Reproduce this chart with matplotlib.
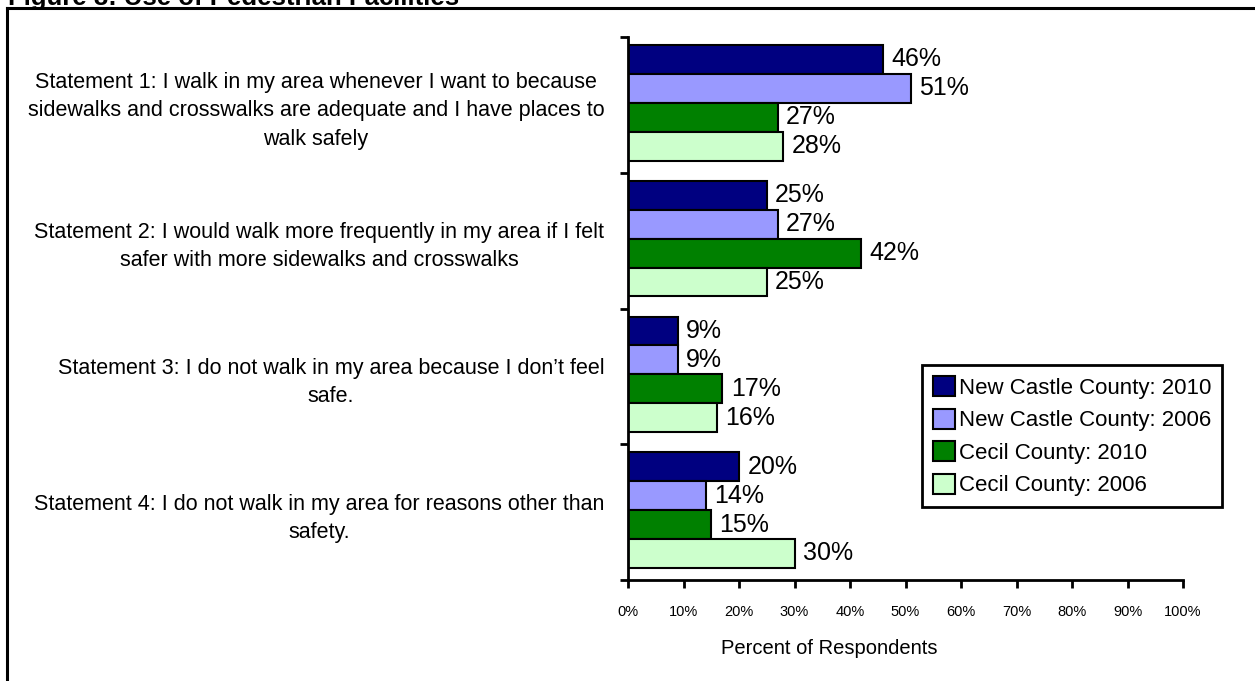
import numpy as np
import matplotlib
matplotlib.use("Agg")
import matplotlib.pyplot as plt
from matplotlib.lines import Line2D

# data
statements = [
    "Statement 1: I walk in my area whenever I want to because\nsidewalks and crosswalks are adequate and I have places to\nwalk safely",
    "Statement 2: I would walk more frequently in my area if I felt\nsafer with more sidewalks and crosswalks",
    "Statement 3: I do not walk in my area because I don\u2019t feel\nsafe.",
    "Statement 4: I do not walk in my area for reasons other than\nsafety.",
]
series_names = ["New Castle County: 2010", "New Castle County: 2006",
                "Cecil County: 2010", "Cecil County: 2006"]
ncc_2010 = [46, 25, 9, 20]
ncc_2006 = [51, 27, 9, 14]
cecil_2010 = [27, 42, 17, 15]
cecil_2006 = [28, 25, 16, 30]
colors = ["#000080", "#9999FF", "#008000", "#CCFFCC"]
xticks = np.arange(0, 101, 10)

narrow = ["Liberation Sans Narrow", "Liberation Sans", "DejaVu Sans"]
regular = ["Liberation Sans", "DejaVu Sans"]

W, H = 1255, 681
fig = plt.figure(figsize=(W / 100, H / 100), dpi=100)
ax = fig.add_axes([628 / W, 1 - 580 / H, (1183 - 628) / W, (580 - 37) / H])

all_series = [ncc_2010, ncc_2006, cecil_2010, cecil_2006]
y = np.arange(len(statements))
bh = 0.213
for i, (vals, name, col) in enumerate(zip(all_series, series_names, colors)):
    pos = y + (i - 1.5) * bh - 0.015
    bars = ax.barh(pos, vals, height=bh, color=col, edgecolor="black",
                   linewidth=1.5, label=name)
    for b, v in zip(bars, vals):
        ax.annotate(f"{v}%", (b.get_width(), b.get_y() + b.get_height() / 2),
                    xytext=(6, 0), textcoords="offset points", va="center",
                    ha="left", fontsize=18, family=regular)

ax.set_xlim(0, 100)
ax.set_ylim(3.5, -0.5)
ax.set_xticks(xticks)
ax.set_xticklabels([f"{t}%" for t in xticks], family=narrow, fontsize=10.5)
ax.tick_params(axis="x", direction="out", length=6, width=2, pad=12)

# category boundaries get the tick marks, labels sit in between
ax.set_yticks(np.arange(-0.5, 4.0, 1.0))
ax.set_yticklabels([])
ax.set_yticks(y, minor=True)
ax.set_yticklabels(statements, minor=True, family=narrow, fontsize=15.5,
                   multialignment="center", linespacing=1.45)
ax.tick_params(axis="y", which="major", direction="out", length=6, width=2)
ax.tick_params(axis="y", which="minor", length=0, pad=17)

for s in ["top", "right"]:
    ax.spines[s].set_visible(False)
for s in ["left", "bottom"]:
    ax.spines[s].set_linewidth(2)

fig.text(829 / W, 1 - 649 / H, "Percent of Respondents", ha="center",
         va="center", fontsize=14.5, family=regular)

leg = fig.legend(loc="upper left", bbox_to_anchor=(922 / W, 1 - 365 / H),
                 borderaxespad=0, fancybox=False, edgecolor="black",
                 prop={"family": narrow, "size": 16}, handlelength=1.0,
                 handleheight=1.0, handletextpad=0.15, labelspacing=0.45,
                 borderpad=0.5, framealpha=1)
leg.get_frame().set_linewidth(2)
for p in leg.get_patches():
    p.set_linewidth(1.5)

# outer frame and the clipped title above it
fig.add_artist(Line2D([7 / W, 7 / W], [0, 1 - 8 / H], color="black", lw=2.2,
                      transform=fig.transFigure))
fig.add_artist(Line2D([7 / W, 1], [1 - 8 / H, 1 - 8 / H], color="black", lw=2.2,
                      transform=fig.transFigure))
fig.text(8 / W, 1 - 5 / H, "Figure 8: Use of Pedestrian Facilities",
         fontsize=18.5, fontweight="bold", family=regular, va="baseline")

fig.savefig("out.png", dpi=100)
